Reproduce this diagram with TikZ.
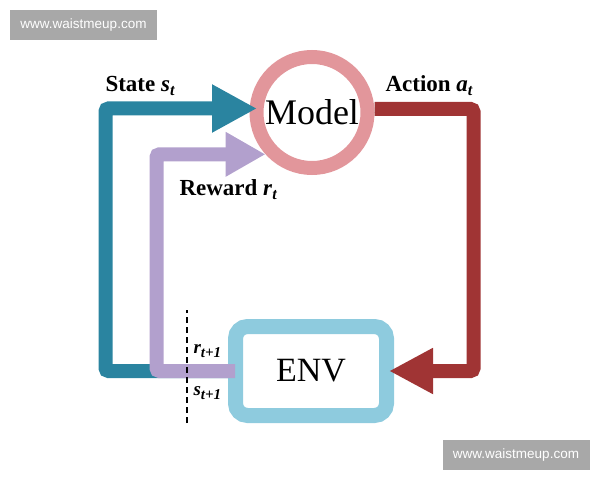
\documentclass[tikz,border=0pt]{standalone}
\usepackage{fontspec}
\setmainfont{Liberation Serif}
\newfontfamily\wmfont{Liberation Sans}
\usetikzlibrary{arrows.meta}
\definecolor{statecol}{RGB}{42,132,160}
\definecolor{rewardcol}{RGB}{178,160,205}
\definecolor{modelcol}{RGB}{226,150,155}
\definecolor{actioncol}{RGB}{160,52,52}
\definecolor{envcol}{RGB}{142,203,222}
\definecolor{wmgray}{RGB}{168,168,168}

\begin{document}
\begin{tikzpicture}[x=1pt,y=1pt,
  flow/.style={line width=14pt,rounded corners=3pt},
  lbl/.style={font=\fontsize{23}{25}\selectfont\bfseries},
  sublbl/.style={font=\fontsize{19}{20}\selectfont\bfseries\itshape,anchor=west},
  wmbox/.style={fill=wmgray,text=white,minimum width=147pt,minimum height=30pt,
    inner sep=0pt,font=\wmfont\fontsize{13.5}{15}\selectfont}]
  \useasboundingbox (0,0) rectangle (600,480);
  \node[circle,draw=modelcol,line width=14pt,minimum size=111pt,inner sep=0pt,
    font=\fontsize{36}{40}\selectfont] (model) at (312,367.5) {Model};
  \node[draw=envcol,line width=15pt,rounded corners=12pt,minimum width=151pt,
    minimum height=89pt,font=\fontsize{34}{38}\selectfont] (env) at (311,109) {ENV};
  % loops between model and environment
  \draw[flow,statecol,-{Triangle[length=45pt,width=45pt]}]
    (env.west) -- (105.5,109) |- ([shift={(7.5pt,4pt)}]model.west);
  \draw[flow,rewardcol,-{Triangle[length=40pt,width=42pt]}]
    ([xshift=7pt]env.west) -- (156.5,109) |- (model.222);
  \draw[flow,actioncol,-{Triangle[length=44pt,width=43pt]}]
    ([yshift=3.5pt]model.east) -| (473.5,109) -- ([xshift=-5pt]env.east);
  \draw[line width=1.3pt,dash pattern=on 6pt off 4pt] (187,57) -- (187,170);
  \node[lbl,anchor=base west] (state) at (102,388) {State \textit{s}\textsubscript{\textit{t}}};
  \node[lbl,anchor=base west] (reward) at (176,284) {Reward \textit{r}\textsubscript{\textit{t}}};
  \node[lbl,anchor=base west] (action) at (382,388) {Action \textit{a}\textsubscript{\textit{t}}};
  \node[sublbl] (rnext) at (190,129) {r{\fontsize{15}{15}\selectfont\raisebox{-4pt}{t+1}}};
  \node[sublbl] (snext) at (190,87) {s{\fontsize{15}{15}\selectfont\raisebox{-4pt}{t+1}}};
  \node[wmbox] (wmtop) at (83.5,455) {www.waistmeup.com};
  \node[wmbox] (wmbottom) at (516,25) {www.waistmeup.com};
\end{tikzpicture}
\end{document}
